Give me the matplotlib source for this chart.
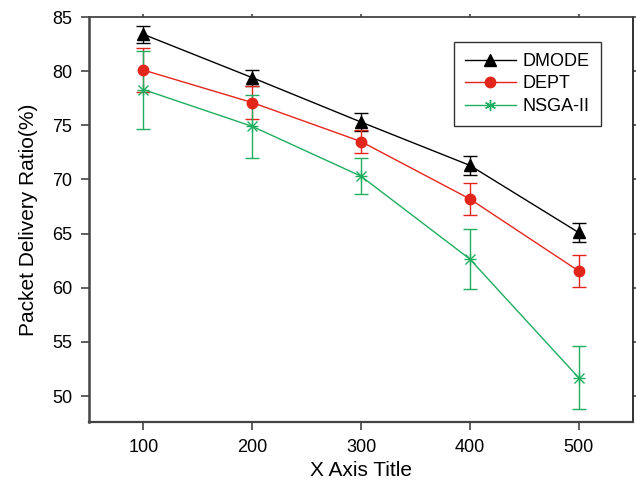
import matplotlib
matplotlib.use('Agg')
import matplotlib.pyplot as plt
from matplotlib.lines import Line2D

plt.rcParams['font.family'] = ['Liberation Sans', 'DejaVu Sans']

x = [100, 200, 300, 400, 500]
dmode = [83.4, 79.4, 75.3, 71.3, 65.1]
dmode_err = [0.8, 0.75, 0.8, 0.9, 0.9]
dept = [80.1, 77.1, 73.5, 68.2, 61.55]
dept_err = [2.0, 1.5, 1.1, 1.5, 1.5]
nsga = [78.3, 74.9, 70.3, 62.65, 51.7]
nsga_err = [3.6, 2.9, 1.65, 2.8, 2.9]

black = '#000000'
red = '#e3261c'
green = '#1fae5f'

fig = plt.figure(figsize=(6.36, 4.86), dpi=100)
ax = fig.add_axes([89/636, 1-422/486, (633-89)/636, (422-17)/486])

ax.errorbar(x, dmode, yerr=dmode_err, color=black, marker='^', markersize=8,
            lw=1, capsize=5, elinewidth=1)
ax.errorbar(x, dept, yerr=dept_err, color=red, marker='o', markersize=7.5,
            lw=1, capsize=5, elinewidth=1)
ax.errorbar(x, nsga, yerr=nsga_err, color=green, marker='x', markersize=7,
            mew=1, lw=1, capsize=5, elinewidth=1)
# extra arms to make the star marker
ax.plot(x, nsga, ls='none', marker='+', markersize=8, mew=1, color=green)

ax.set_xlim(50, 550)
ax.set_ylim(47.6, 85)
ax.set_xticks(x)
ax.set_yticks([50, 55, 60, 65, 70, 75, 80, 85])
ax.tick_params(axis='both', labelsize=13, direction='out', length=6, width=1.2,
               pad=6, color='#444444', top=True, right=True)
# short ticks on top and right
for t in ax.xaxis.get_major_ticks() + ax.yaxis.get_major_ticks():
    t.tick2line.set_markersize(2)
for s in ax.spines.values():
    s.set_linewidth(1.3)
    s.set_color('#444444')
ax.spines['left'].set_linewidth(1.8)
ax.spines['bottom'].set_linewidth(1.6)
ax.spines['right'].set_color('#222222')

ax.set_xlabel('X Axis Title', fontsize=15, labelpad=4)
ax.set_ylabel('Packet Delivery Ratio(%)', fontsize=15, labelpad=10)

handles = [
    Line2D([], [], color=black, marker='^', markersize=8, lw=1),
    Line2D([], [], color=red, marker='o', markersize=7.5, lw=1),
    Line2D([], [], color=green, marker=(6, 2, 0), markersize=8, lw=1, mew=1),
]
leg = ax.legend(handles, ['DMODE', 'DEPT', 'NSGA-II'], loc='upper right',
                bbox_to_anchor=(0.957, 0.96), fontsize=13,
                frameon=True, fancybox=False, edgecolor='black', handlelength=2.8,
                borderpad=0.6, labelspacing=0.3, handletextpad=0.4)
leg.get_frame().set_linewidth(1)

fig.savefig('out.png', dpi=100)
